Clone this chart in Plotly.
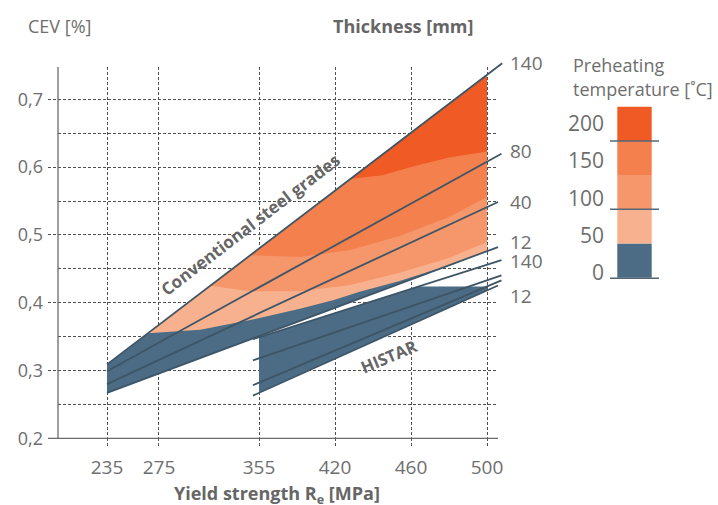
import numpy as np
import plotly.graph_objects as go

# ------------------------------------------------------------------ data
YIELD_TICKS = [235, 275, 355, 420, 460, 500]          # MPa (x-axis categories)
Y_TICKS = [0.2, 0.3, 0.4, 0.5, 0.6, 0.7]              # CEV tick labels

THICKNESS = ["140", "80", "40", "12"]                  # mm
CONV_CEV_AT_235 = [0.309, 0.299, 0.280, 0.267]         # conventional grades
CONV_CEV_AT_500 = [0.736, 0.608, 0.541, 0.476]
HISTAR_CEV_AT_355 = [0.349, 0.318, 0.282, 0.267]       # HISTAR grades
HISTAR_CEV_AT_500 = [0.456, 0.433, 0.424, 0.418]
HISTAR_CEV_CAP = 0.424

PREHEAT_TEMPS = [0, 50, 100, 150, 200]                 # deg C
# boundaries between preheating zones: yield strength [MPa] / CEV
B_0_50_RE = [266.5, 308, 348, 390, 419, 433, 454, 480, 500]
B_0_50_CEV = [0.355, 0.360, 0.3745, 0.391, 0.404, 0.416, 0.432, 0.452, 0.470]
B_50_100_RE = [316, 348, 390, 428, 454, 480, 500]
B_50_100_CEV = [0.425, 0.417, 0.417, 0.426, 0.444, 0.466, 0.4895]
B_100_150_RE = [348, 390, 428, 454, 480, 500]
B_100_150_CEV = [0.470, 0.4674, 0.4777, 0.4984, 0.5264, 0.556]
B_150_200_RE = [428, 445, 460, 480, 500]
B_150_200_CEV = [0.5823, 0.588, 0.600, 0.614, 0.623]

# ------------------------------------------------------------------ layout constants
W, H = 718, 505
TICK_POS = [0, 0.684, 2, 3, 4, 5]        # axis position of each yield-strength tick
PX_PER_POS, PX_ORIGIN = 76.0, 107.0      # x: pixel scale
PX_PER_CEV, PY_BASE = 678.0, 438.3       # y: pixel scale (CEV 0.2 at PY_BASE)
CONV_END = [5.2, 5.19, 5.145, 5.145]
HIS_START = 1.92
HIS_END = [5.19, 5.19, 5.19, 5.145]

ZONE_COLORS = ["#4b6c84", "#f8b18e", "#f5966b", "#f3804d", "#f05a24"]
LINE_COLOR = "#3d5566"
GRID_COLOR = "#505050"
TEXT_COLOR = "#6e6e6e"
FONT = "Open Sans"


def fx(px):
    return px / W


def fy(py):
    return 1 - py / H


def pos_of_px(px):
    return (px - PX_ORIGIN) / PX_PER_POS


def cev_of_py(py):
    return 0.2 + (PY_BASE - py) / PX_PER_CEV


def pos(re):
    return np.interp(re, YIELD_TICKS, TICK_POS)


def conv(i, p):
    a, b = CONV_CEV_AT_235[i], CONV_CEV_AT_500[i]
    return a + (b - a) * np.asarray(p, float) / TICK_POS[-1]


def histar(i, p):
    a, b = HISTAR_CEV_AT_355[i], HISTAR_CEV_AT_500[i]
    p0 = TICK_POS[2]
    return a + (b - a) * (np.asarray(p, float) - p0) / (TICK_POS[-1] - p0)


P_END = TICK_POS[-1]
fig = go.Figure()
common = dict(mode="lines", hoverinfo="skip", showlegend=False, xaxis="x2", yaxis="y2")

# conventional region, 0 deg C base
fig.add_trace(go.Scatter(
    x=[0, P_END, P_END, 0],
    y=[conv(0, 0), conv(0, P_END), conv(3, P_END), conv(3, 0)],
    fill="toself", fillcolor=ZONE_COLORS[0], line=dict(width=0), **common))

bounds = [(B_0_50_RE, B_0_50_CEV), (B_50_100_RE, B_50_100_CEV),
          (B_100_150_RE, B_100_150_CEV), (B_150_200_RE, B_150_200_CEV)]
for k, (bre, bcev) in enumerate(bounds):
    bx = pos(bre)
    by = np.maximum(np.asarray(bcev), conv(3, bx))
    fig.add_trace(go.Scatter(
        x=list(bx) + [P_END], y=list(by) + [float(conv(0, P_END))],
        fill="toself", fillcolor=ZONE_COLORS[k + 1], line=dict(width=0), **common))

# HISTAR region
p2 = TICK_POS[2]
p_break = p2 + (HISTAR_CEV_CAP - HISTAR_CEV_AT_355[0]) / (
    HISTAR_CEV_AT_500[0] - HISTAR_CEV_AT_355[0]) * (P_END - p2)
fig.add_trace(go.Scatter(
    x=[p2, p_break, P_END, P_END, p2],
    y=[histar(0, p2), HISTAR_CEV_CAP, HISTAR_CEV_CAP, histar(3, P_END), histar(3, p2)],
    fill="toself", fillcolor=ZONE_COLORS[0], line=dict(width=0), **common))

# thickness lines
for i in range(4):
    fig.add_trace(go.Scatter(x=[0, CONV_END[i]], y=[conv(i, 0), conv(i, CONV_END[i])],
                             line=dict(color=LINE_COLOR, width=1.8), **common))
for i in range(4):
    fig.add_trace(go.Scatter(x=[HIS_START, HIS_END[i]],
                             y=[histar(i, HIS_START), histar(i, HIS_END[i])],
                             line=dict(color=LINE_COLOR, width=1.8), **common))

# empty traces so every helper subplot exists
for ax in ["", "3", "4"]:
    fig.add_trace(go.Scatter(x=[None], y=[None], xaxis="x" + ax, yaxis="y" + ax,
                             mode="lines", showlegend=False, hoverinfo="skip"))

# ------------------------------------------------------------------ axes
x_rng_grid = [pos_of_px(58), pos_of_px(498)]
y_rng_grid = [0.2, cev_of_py(67)]
dash = "3px,2px"
minor_y = [round(0.2 + 0.05 * k, 2) for k in range(11)]
base_ax = dict(automargin=False, zeroline=False, showline=False, fixedrange=True)

fig.update_layout(
    width=W, height=H, margin=dict(l=0, r=0, t=0, b=0, autoexpand=False),
    paper_bgcolor="white", plot_bgcolor="rgba(0,0,0,0)",
    separators=", ", showlegend=False,
    font=dict(family=FONT, color=TEXT_COLOR, size=18),
    # grid subplot
    xaxis=dict(domain=[fx(58), fx(498)], range=x_rng_grid, tickvals=TICK_POS,
               showgrid=True, gridcolor=GRID_COLOR, gridwidth=1, griddash=dash,
               showticklabels=False, anchor="y", **base_ax),
    yaxis=dict(domain=[fy(PY_BASE), fy(67)], range=y_rng_grid, tickvals=minor_y,
               showgrid=True, gridcolor=GRID_COLOR, gridwidth=1, griddash=dash,
               showticklabels=False, anchor="x", **base_ax),
    # data subplot
    xaxis2=dict(domain=[fx(58), fx(520)], range=[pos_of_px(58), pos_of_px(520)],
                visible=False, anchor="y2", **base_ax),
    yaxis2=dict(domain=[fy(PY_BASE), fy(50)], range=[0.2, cev_of_py(50)],
                visible=False, anchor="x2", **base_ax),
    # y tick stubs + labels
    xaxis3=dict(domain=[fx(48), fx(58)], range=[0, 1], visible=False, anchor="y3",
                **base_ax),
    yaxis3=dict(domain=[fy(PY_BASE), fy(67)], range=y_rng_grid, tickvals=Y_TICKS,
                tickformat=".1f", showgrid=True, gridcolor=GRID_COLOR, gridwidth=1,
                griddash=dash, anchor="x3", ticklabelstandoff=4,
                tickfont=dict(size=18, color=TEXT_COLOR), **base_ax),
    # x tick stubs + labels
    xaxis4=dict(domain=[fx(58), fx(498)], range=x_rng_grid, tickvals=TICK_POS,
                ticktext=[str(v) for v in YIELD_TICKS], showgrid=True,
                gridcolor=GRID_COLOR, gridwidth=1, griddash=dash, anchor="y4",
                ticklabelstandoff=7, tickfont=dict(size=19, color=TEXT_COLOR), **base_ax),
    yaxis4=dict(domain=[fy(447), fy(PY_BASE)], range=[0, 1], visible=False, anchor="x4",
                **base_ax),
)

# axis lines
fig.add_shape(type="line", xref="paper", yref="paper", x0=fx(58), x1=fx(58),
              y0=fy(67), y1=fy(PY_BASE), line=dict(color="#6a6a6a", width=1.3))
fig.add_shape(type="line", xref="paper", yref="paper", x0=fx(48), x1=fx(498),
              y0=fy(PY_BASE), y1=fy(PY_BASE), line=dict(color="#6a6a6a", width=1.3))


# ------------------------------------------------------------------ texts
def ann(text, x, y, xanchor="center", size=18, bold=False, angle=0, xref="paper",
        yref="paper", yshift=0, color=TEXT_COLOR):
    fig.add_annotation(text=text, x=x, y=y, xref=xref, yref=yref, xanchor=xanchor,
                       yanchor="middle", showarrow=False, textangle=angle, yshift=yshift,
                       font=dict(family=FONT, size=size, color=color,
                                 weight="bold" if bold else "normal"))


ann("CEV [%]", fx(26), fy(26), xanchor="left", size=18)
ann("Thickness [mm]", fx(403), fy(26), size=18, bold=True, color="#666666")
ann("Yield strength R<sub>e</sub> [MPa]", fx(277), fy(494), size=18, bold=True,
    color="#666666")

# thickness labels at right end of lines
lab_x = pos_of_px(508)
conv_shift = [0, 3, 0, 5]
for i in range(4):
    ann(THICKNESS[i], lab_x, float(conv(i, CONV_END[i])), xanchor="left", size=19,
        xref="x2", yref="y2", yshift=conv_shift[i])
ann(THICKNESS[0], lab_x, float(histar(0, HIS_END[0])), xanchor="left", size=19,
    xref="x2", yref="y2", yshift=-1)
ann(THICKNESS[3], lab_x, float(histar(3, HIS_END[3])), xanchor="left", size=19,
    xref="x2", yref="y2", yshift=-10)

ann("Conventional steel grades", pos_of_px(250), cev_of_py(224), size=17, bold=True,
    angle=-37.5, xref="x2", yref="y2", color="#666666")
ann("HISTAR", pos_of_px(388), cev_of_py(356), size=16.5, bold=True, angle=-23,
    xref="x2", yref="y2", color="#666666")

# ------------------------------------------------------------------ legend
ann("Preheating", fx(571), fy(65), xanchor="left", size=18)
ann("temperature [˚C]", fx(571), fy(89), xanchor="left", size=18)
seg_h = (277.7 - 106.7) / len(PREHEAT_TEMPS)
for i, t in enumerate(PREHEAT_TEMPS):
    y_bot = 277.7 - i * seg_h
    y_top = y_bot - seg_h
    fig.add_shape(type="rect", xref="paper", yref="paper", x0=fx(617.3), x1=fx(651.7),
                  y0=fy(y_bot), y1=fy(y_top), fillcolor=ZONE_COLORS[i],
                  line=dict(width=0), layer="above")
    ann(str(t), fx(606), fy(271.7 - i * 37.1), xanchor="right", size=21)
for i in [0, 2, 4]:
    yy = 278.3 if i == 0 else 277.7 - i * seg_h
    fig.add_shape(type="line", xref="paper", yref="paper", x0=fx(610), x1=fx(659),
                  y0=fy(yy), y1=fy(yy), line=dict(color="#566676", width=1.5),
                  layer="above")

fig.write_html(
    "out.html", config={"displayModeBar": False},
    post_script="document.body.style.margin='0';document.body.style.overflow='hidden';",
)
